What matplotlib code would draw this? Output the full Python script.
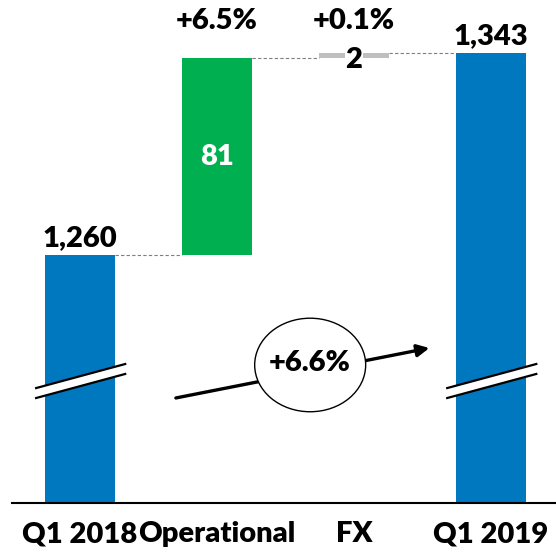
import matplotlib
matplotlib.use("Agg")
import matplotlib.pyplot as plt
from matplotlib.patches import Ellipse, Polygon

# ---- data ----
categories = ["Q1 2018", "Operational", "FX", "Q1 2019"]
values = [1260, 81, 2, 1343]
kinds = ["total", "delta", "delta", "total"]
pct_labels = ["", "+6.5%", "+0.1%", ""]
value_labels = ["1,260", "81", "2", "1,343"]
total_growth = "+6.6%"

colors = {"total": "#0078BF", "Operational": "#00B050", "FX": "#BFBFBF"}
FONT = ["Lato", "DejaVu Sans"]
WEIGHT = "heavy"

W, H = 556, 553
fig = plt.figure(figsize=(W / 100, H / 100), dpi=100)
ax = fig.add_axes([12 / W, 50 / H, 544 / W, 503 / H])
ymin, ymax = 1158, 1365
ax.set_ylim(ymin, ymax)
ax.set_xlim(-0.496, 3.474)

bar_w = 0.51
running = 0
tops = []
for i, (cat, v, k) in enumerate(zip(categories, values, kinds)):
    if k == "total":
        ax.bar(i, v - ymin, bottom=ymin, width=bar_w, color=colors["total"], zorder=2)
        running = v
        tops.append(v)
    else:
        ax.bar(i, v, bottom=running, width=bar_w, color=colors[cat], zorder=2)
        running += v
        tops.append(running)

# connectors
for i in range(len(values) - 1):
    lvl = tops[i]
    ax.plot([i + bar_w / 2, i + 1 - bar_w / 2], [lvl, lvl], ls=(0, (3, 2)),
            color="#7F7F7F", lw=0.8, zorder=1)

fs = 21
# value labels
ax.text(0, tops[0] + 3.8, value_labels[0], ha="center", va="baseline", fontsize=fs,
        fontweight=WEIGHT, family=FONT)
ax.text(1, tops[0] + values[1] / 2, value_labels[1], ha="center", va="center",
        fontsize=fs, fontweight=WEIGHT, color="white", family=FONT)
ax.text(2, tops[2] - values[2] / 2 - 1.5, value_labels[2], ha="center", va="center",
        fontsize=fs, fontweight=WEIGHT, family=FONT, zorder=4,
        bbox=dict(facecolor="white", edgecolor="none", pad=0.5))
ax.text(3, tops[3] + 3.8, value_labels[3], ha="center", va="baseline", fontsize=fs,
        fontweight=WEIGHT, family=FONT)
# percentage labels
for i, p in enumerate(pct_labels):
    if p:
        ax.text(i, 1356.5, p, ha="center", va="center", fontsize=fs,
                fontweight=WEIGHT, family=FONT)

# axes styling
for s in ["top", "right", "left"]:
    ax.spines[s].set_visible(False)
ax.spines["bottom"].set_linewidth(1.5)
ax.set_yticks([])
ax.set_xticks(range(len(categories)))
ax.set_xticklabels(categories, fontsize=fs, fontweight=WEIGHT, family=FONT)
ax.tick_params(axis="x", length=0, pad=13)

# break marks
def brk(xc):
    x0, x1 = xc - 0.32, xc + 0.33
    ya0, ya1 = 1205.3, 1215.2
    gap = 4.1
    poly = Polygon([[x0, ya0], [x1, ya1], [x1, ya1 - gap], [x0, ya0 - gap]],
                   closed=True, facecolor="white", edgecolor="none", zorder=3)
    ax.add_patch(poly)
    ax.plot([x0, x1], [ya0, ya1], color="black", lw=1.6, zorder=4)
    ax.plot([x0, x1], [ya0 - gap, ya1 - gap], color="black", lw=1.6, zorder=4)

brk(0)
brk(3)

# growth arrow with ellipse
ax.annotate("", xy=(2.57, 1222), xytext=(0.68, 1201),
            arrowprops=dict(arrowstyle="-|>", color="black", lw=2.4,
                            mutation_scale=18), zorder=3)
ell = Ellipse((1.68, 1214.8), 0.81, 38.5, facecolor="white", edgecolor="black",
              lw=1.0, zorder=4)
ax.add_patch(ell)
ax.text(1.68, 1215.5, total_growth, ha="center", va="center", fontsize=fs,
        fontweight=WEIGHT, family=FONT, zorder=5)

fig.savefig("out.png", dpi=100)
